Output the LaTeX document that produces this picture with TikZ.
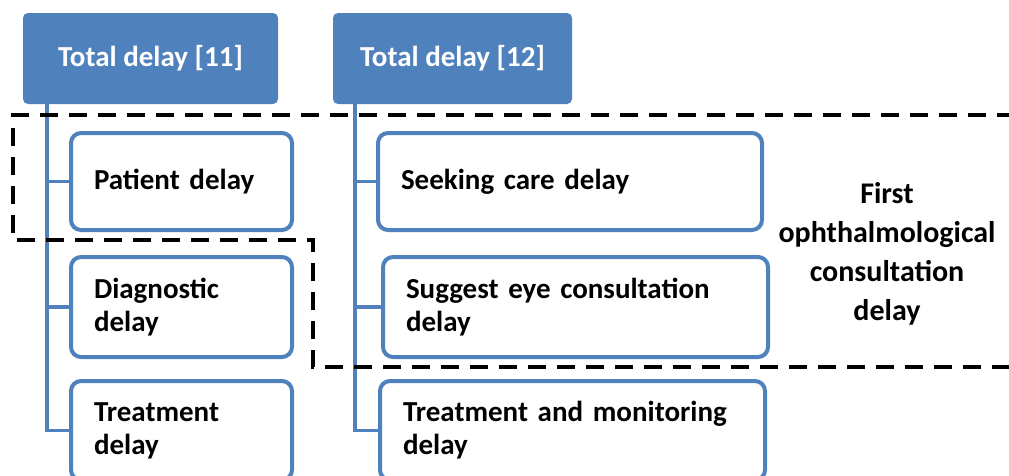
\documentclass[tikz,border=0pt]{standalone}
\usepackage{fontspec}
\setmainfont{Carlito}
\usetikzlibrary{calc}
\usetikzlibrary{positioning}
\definecolor{delayblue}{HTML}{4F81BD}

\tikzset{
  topbox/.style={fill=delayblue, rounded corners=5pt, text=white, minimum height=91pt,
    font=\fontsize{29}{33}\selectfont\bfseries},
  childbox/.style={draw=delayblue, line width=4pt, rounded corners=10pt, fill=white,
    align=left, inner xsep=23pt, inner ysep=0pt, minimum height=97pt,
    font=\fontsize{29}{33}\selectfont\bfseries},
  branch/.style={draw=delayblue, line width=3.5pt},
  zone/.style={draw=black, line width=4pt, dash pattern=on 18pt off 11pt}
}

\begin{document}
\begin{tikzpicture}[x=1pt, y=-1pt]
\useasboundingbox (0,0) rectangle (1009,475);
\clip (0,0) rectangle (1009,475);

\node[topbox, minimum width=255pt] (total1) at (150.5,58.5) {Total delay [11]};
\node[topbox, minimum width=239pt] (total2) at (452.5,58.5) {Total delay [12]};

\node[childbox, text width=175pt] (patient) at (181.5,181.5) {Patient delay};
\node[childbox, text width=175pt, minimum height=100pt] (diagnostic) at (181.5,307) {Diagnostic\\delay};
\node[childbox, text width=175pt, minimum height=99pt] (treatment) at (181.5,430.5) {Treatment\\delay};

\node[childbox, text width=338pt] (seeking) at (570,181.5) {Seeking care delay};
\node[childbox, text width=339pt, minimum height=100pt] (suggest) at (575.5,307) {Suggest eye consultation\\delay};
\node[childbox, text width=339pt, minimum height=99pt] (monitoring) at (572.5,430.5) {Treatment and monitoring\\delay};

\coordinate (trunk1) at ($(total1.south west)+(24,0)$);
\coordinate (trunk2) at ($(total2.south west)+(22,0)$);

\draw[branch] (trunk1) |- (treatment.west);
\draw[branch] (trunk1 |- patient.west) -- (patient.west);
\draw[branch] (trunk1 |- diagnostic.west) -- (diagnostic.west);

\draw[branch] (trunk2) |- (monitoring.west);
\draw[branch] (trunk2 |- seeking.west) -- (seeking.west);
\draw[branch] (trunk2 |- suggest.west) -- (suggest.west);

\node[align=center, font=\fontsize{30}{39}\selectfont\bfseries] (first) at (887,254)
  {First\\ophthalmological\\consultation\\delay};

\draw[zone] (1015,115) -- (13,115) -- (13,240) -- (313,240) -- (313,367) -- (1015,367);

\end{tikzpicture}
\end{document}
